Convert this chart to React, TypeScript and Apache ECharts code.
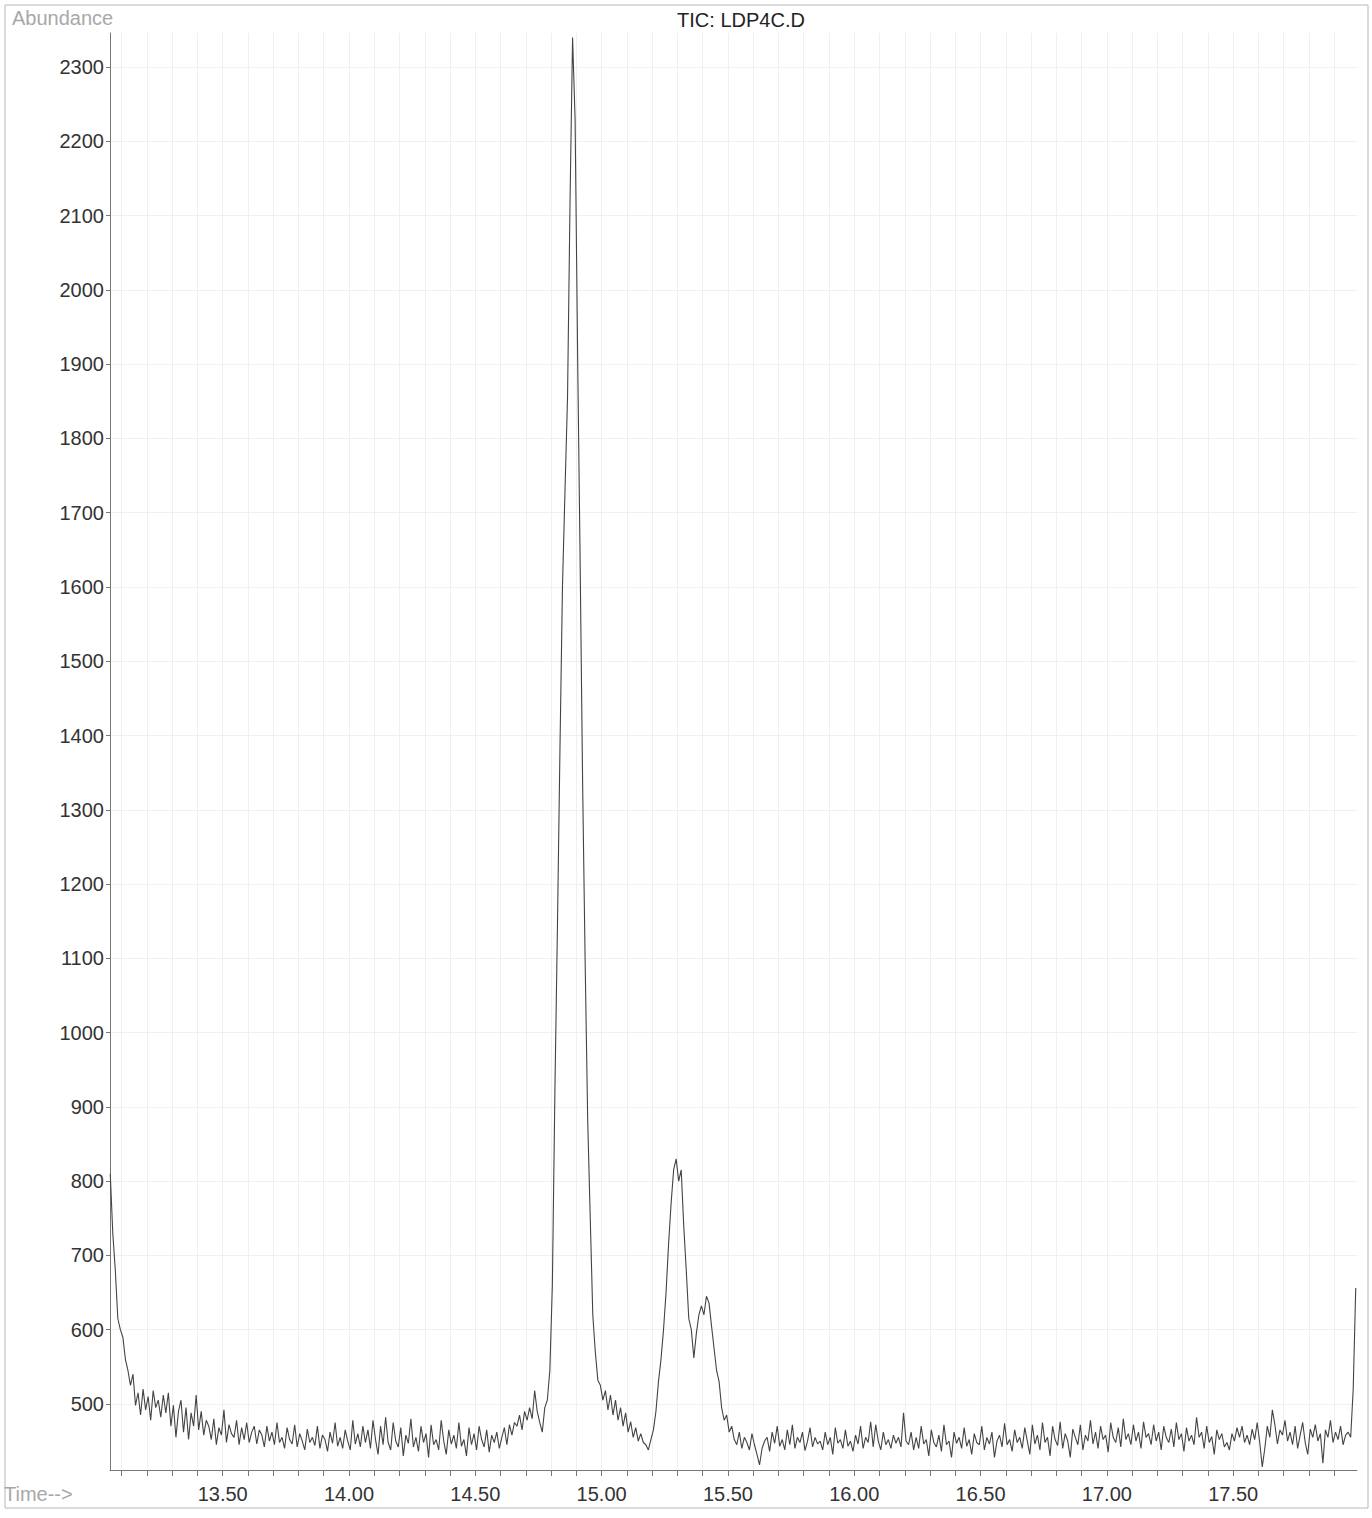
import React, { useEffect, useRef } from "react";
import * as echarts from "echarts";

// Scan grid: retention time of sample i = T0 + i * STEP (minutes)
const T0 = 13.055;
const STEP = 0.01;

// Abundance values, segment by segment
const startDrop = [810, 730, 680, 615, 600, 590, 560, 545, 525];
const baseA = [540, 498, 515, 485, 520, 492, 510, 478, 518, 495, 505, 482, 512, 488];
const baseB = [515, 470, 498, 455, 490, 505, 462, 495, 452, 488, 470, 512, 465, 490, 458, 478];
const baseC = [470, 452, 480, 445, 468, 458, 492, 448, 472, 460, 455, 478, 445, 468, 452, 475, 448, 462, 470, 446, 465];
const baseD = [458, 442, 470, 450, 462, 445, 475, 448, 455, 440, 468, 452, 446, 472, 442, 460, 450, 438, 466, 448, 455, 444, 470, 440, 458, 452, 436, 462, 447, 475, 443, 455, 440, 465, 450, 438, 478, 446, 460, 442, 470, 448];
const baseE = [465, 440, 478, 452, 432, 470, 445, 482, 448, 438, 475, 450, 442, 468, 430, 458, 447, 480, 442, 455, 436, 470, 448, 460, 428, 472, 445, 452, 438, 478, 450, 432, 465, 446, 458, 440, 475, 443, 452, 430, 468];
const baseF = [445, 460, 438, 470, 452, 442, 465, 435, 458, 448, 462, 440, 455, 468, 445, 472, 458, 475];
const preMain = [470, 485, 465, 490, 478, 495, 480, 518, 490, 475, 462, 495, 505];
const mainPeak = [545, 660, 920, 1140, 1380, 1600, 1730, 1855, 2120, 2340, 2230, 1912, 1632, 1330, 1090, 880, 750, 620, 570, 532, 525];
const mainTail = [505, 518, 492, 512, 485, 505, 478, 495, 470, 488, 462, 476, 455, 468, 450, 460, 448, 445, 438, 452];
const secondPeak = [465, 490, 530, 560, 600, 650, 715, 770, 815, 830, 800, 815, 740, 680, 615, 600, 562, 595, 620, 632, 620, 645, 636, 605, 575, 545, 530, 495, 478, 485, 462];
const baseG = [470, 452, 445, 462, 440, 455, 448, 438, 460, 445, 432, 418, 440, 450, 455, 436, 462, 447, 470, 443, 452, 438, 465, 445, 472, 440, 455, 448, 462, 437, 450, 468, 442, 455, 446];
const baseH = [450, 438, 462, 445, 455, 432, 468, 447, 452, 440, 465, 443, 450, 436, 458, 446, 470, 440, 455, 448, 476, 442, 472, 450, 438, 462, 445, 452, 440, 458, 447, 455, 442, 488, 450];
const baseI = [445, 462, 438, 455, 440, 470, 446, 452, 430, 465, 448, 442, 458, 436, 472, 445, 450, 428, 462, 447, 455, 440, 468, 443, 452, 432, 460, 448, 445, 470, 438, 455, 446, 462, 428, 450, 458, 442, 474, 445, 452, 436, 465, 448, 455];
const baseJ = [440, 468, 450, 432, 472, 446, 458, 438, 475, 448, 455, 430, 470, 452, 444, 476, 440, 460, 450, 428, 466, 455, 445, 472, 438, 458, 450, 478, 446, 462, 440, 470, 452, 458, 435, 475, 455, 448, 468, 442, 480, 452, 460, 445, 472, 450, 462, 440, 476, 455];
const baseK = [460, 445, 472, 450, 462, 438, 470, 455, 448, 466, 442, 475, 452, 460, 436, 468, 450, 458, 445, 482, 455, 462, 440, 470, 448, 456, 432, 465, 452, 460, 442, 448, 438, 460, 450, 468, 455, 470, 448, 458, 445, 466, 452, 475, 448, 415, 440, 470, 455, 492, 472, 446, 465, 458, 478, 450, 462, 445, 470, 440, 458, 475, 448, 432, 466, 455, 472, 450, 460, 420, 465, 455, 478, 448, 462, 452, 470, 445, 458, 462, 455, 520, 656];

const yTickValues = [500, 600, 700, 800, 900, 1000, 1100, 1200, 1300, 1400, 1500, 1600, 1700, 1800, 1900, 2000, 2100, 2200, 2300];
const xLabelValues = [13.5, 14.0, 14.5, 15.0, 15.5, 16.0, 16.5, 17.0, 17.5];
const xMinorStart = 13.1;
const xMinorCount = 49;

const abundance = [
  ...startDrop, ...baseA, ...baseB, ...baseC, ...baseD, ...baseE, ...baseF, ...preMain,
  ...mainPeak, ...mainTail, ...secondPeak, ...baseG, ...baseH, ...baseI, ...baseJ, ...baseK,
];

const FONT = "'Liberation Sans', Arial, sans-serif";

export default function App() {
  const ref = useRef<HTMLDivElement>(null);
  useEffect(() => {
    document.body.style.margin = "0";
    const chart = echarts.init(ref.current as HTMLDivElement, null, { renderer: "svg" });
    const data = abundance.map((v, i) => [Number((T0 + i * STEP).toFixed(3)), v]);
    const xTickValues: number[] = [];
    for (let k = 0; k < xMinorCount; k++) xTickValues.push(Number((xMinorStart + k * 0.1).toFixed(2)));

    chart.setOption({
      animation: false,
      backgroundColor: "#ffffff",
      grid: { left: 110, right: 15, top: 33, bottom: 48, containLabel: false },
      graphic: [
        {
          type: "rect",
          shape: { x: 5, y: 5, width: 1363, height: 1503 },
          style: { fill: "none", stroke: "#b8b8b8", lineWidth: 1 },
          silent: true,
        },
        {
          type: "text",
          x: 741,
          y: 20,
          style: { text: "TIC: LDP4C.D", fill: "#222", fontSize: 20, fontFamily: FONT, align: "center", verticalAlign: "middle" },
        },
        {
          type: "text",
          x: 12,
          y: 18,
          style: { text: "Abundance", fill: "#a8a8a8", fontSize: 20, fontFamily: FONT, align: "left", verticalAlign: "middle" },
        },
        {
          type: "text",
          x: 4,
          y: 1494,
          style: { text: "Time-->", fill: "#a8a8a8", fontSize: 20, fontFamily: FONT, align: "left", verticalAlign: "middle" },
        },
      ],
      xAxis: {
        type: "value",
        min: 13.054,
        max: 17.99,
        axisLine: { show: true, lineStyle: { color: "#777", width: 1 } },
        axisTick: { show: true, customValues: xTickValues, length: 6, lineStyle: { color: "#777" } },
        axisLabel: {
          customValues: xLabelValues,
          formatter: (v: number) => v.toFixed(2),
          fontSize: 20,
          color: "#333",
          fontFamily: FONT,
          margin: 14,
        },
        splitLine: { show: true, lineStyle: { color: "#f0f0f0", width: 1 } },
      },
      yAxis: {
        type: "value",
        min: 411,
        max: 2346,
        axisLine: { show: true, lineStyle: { color: "#777", width: 1 } },
        axisTick: { show: true, customValues: yTickValues, length: 4, lineStyle: { color: "#777" } },
        axisLabel: {
          customValues: yTickValues,
          formatter: (v: number) => String(v),
          fontSize: 20,
          color: "#333",
          fontFamily: FONT,
          margin: 6,
        },
        splitLine: { show: true, lineStyle: { color: "#f0f0f0", width: 1 } },
      },
      series: [
        {
          type: "line",
          data,
          symbol: "none",
          showSymbol: false,
          lineStyle: { color: "#444", width: 1.1 },
          silent: true,
        },
      ],
    });
    return () => chart.dispose();
  }, []);
  return (
    <div
      ref={ref}
      style={{ position: "fixed", left: 0, top: 0, width: 1372, height: 1518, background: "#fff" }}
    />
  );
}
